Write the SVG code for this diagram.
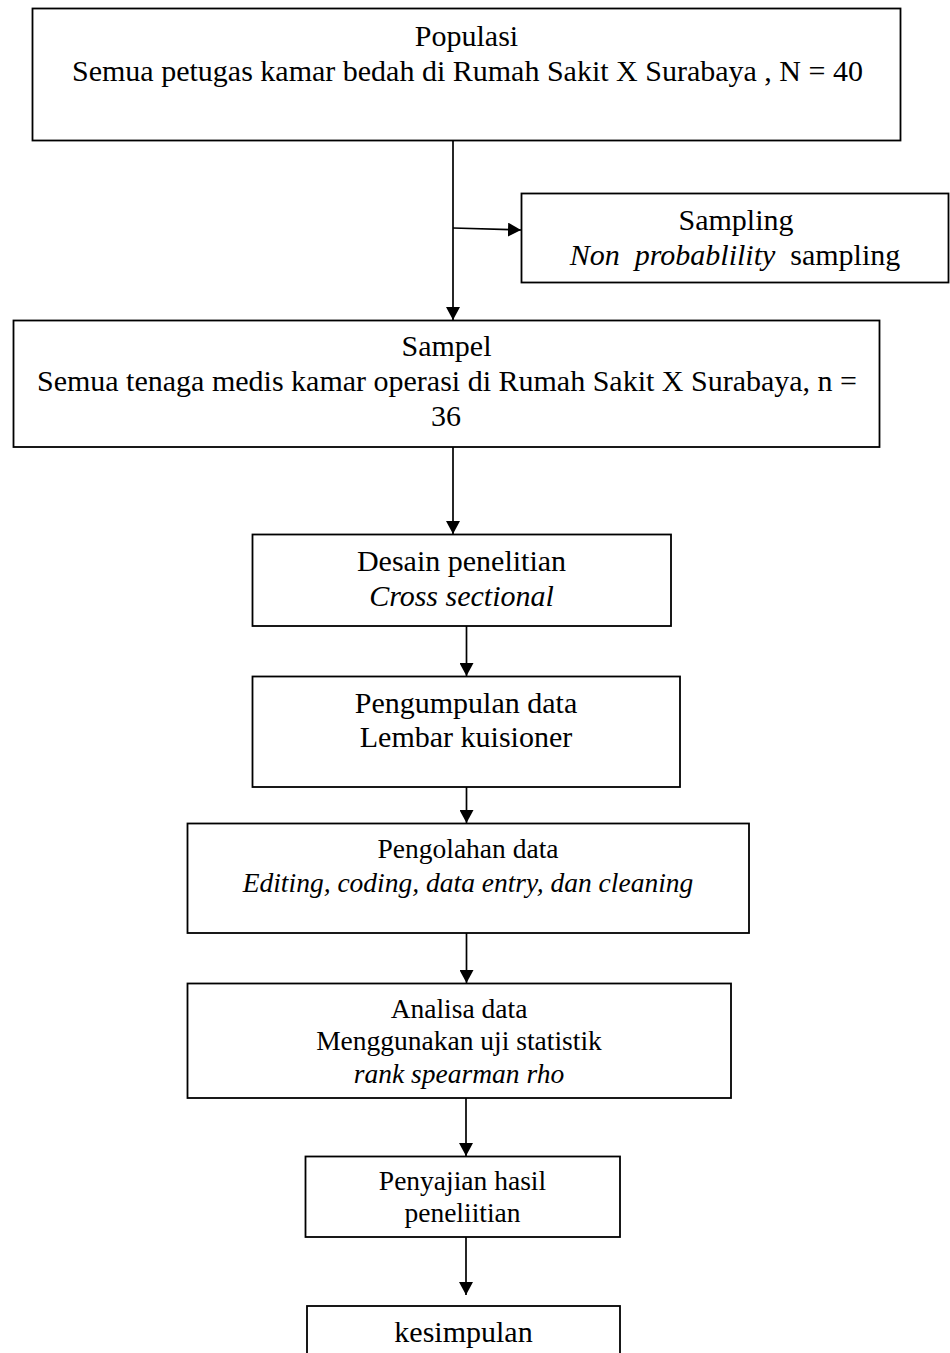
<svg xmlns="http://www.w3.org/2000/svg" width="950" height="1353" viewBox="0 0 950 1353">
<style>
  .box { fill: #ffffff; stroke: #000000; stroke-width: 1.8; }
  .t { font-family: "Liberation Serif", "Times New Roman", serif; fill: #000000; text-anchor: middle; }
  .a { font-size: 30px; }
  .b { font-size: 27.5px; }
  .i { font-style: italic; }
  .c { fill: none; stroke: #000000; stroke-width: 1.7; }
</style>
<defs>
  <marker id="arr" viewBox="0 0 13 14" refX="13" refY="7" markerWidth="13" markerHeight="14" markerUnits="userSpaceOnUse" orient="auto">
    <path d="M0,0 L13,7 L0,14 Z" fill="#000000"/>
  </marker>
</defs>
<rect width="950" height="1353" fill="#ffffff"/>

<g id="connectors">
  <line class="c" x1="453" y1="141" x2="453" y2="320" marker-end="url(#arr)"/>
  <line class="c" x1="453" y1="228" x2="521" y2="230" marker-end="url(#arr)"/>
  <line class="c" x1="453" y1="447" x2="453" y2="534" marker-end="url(#arr)"/>
  <line class="c" x1="466.5" y1="626" x2="466.5" y2="676" marker-end="url(#arr)"/>
  <line class="c" x1="466.5" y1="787" x2="466.5" y2="823" marker-end="url(#arr)"/>
  <line class="c" x1="466.5" y1="933" x2="466.5" y2="983" marker-end="url(#arr)"/>
  <line class="c" x1="466" y1="1098" x2="466" y2="1156" marker-end="url(#arr)"/>
  <line class="c" x1="466" y1="1237" x2="466" y2="1295" marker-end="url(#arr)"/>
</g>

<g id="populasi">
  <rect class="box" x="32.5" y="8.5" width="868" height="132"/>
  <text class="t a" x="466.5" y="46">Populasi</text>
  <text class="t a" x="467.5" y="81">Semua petugas kamar bedah di Rumah Sakit X Surabaya , N = 40</text>
</g>

<g id="sampling">
  <rect class="box" x="521.5" y="193.5" width="427" height="89"/>
  <text class="t a" x="736" y="230">Sampling</text>
  <text class="t a" x="735" y="265"><tspan class="i">Non&#160; probablility</tspan>&#160; sampling</text>
</g>

<g id="sampel">
  <rect class="box" x="13.5" y="320.5" width="866" height="126.5"/>
  <text class="t a" x="446.5" y="356">Sampel</text>
  <text class="t a" x="447" y="391">Semua tenaga medis kamar operasi di Rumah Sakit X Surabaya, n =</text>
  <text class="t a" x="446" y="426">36</text>
</g>

<g id="desain">
  <rect class="box" x="252.5" y="534.5" width="418.5" height="91.5"/>
  <text class="t a" x="461.5" y="571">Desain penelitian</text>
  <text class="t a i" x="461.5" y="606">Cross sectional</text>
</g>

<g id="pengumpulan">
  <rect class="box" x="252.5" y="676.5" width="427.5" height="110.5"/>
  <text class="t a" x="466" y="713">Pengumpulan data</text>
  <text class="t a" x="466" y="747">Lembar kuisioner</text>
</g>

<g id="pengolahan">
  <rect class="box" x="187.5" y="823.5" width="561.5" height="109.5"/>
  <text class="t b" x="468" y="858">Pengolahan data</text>
  <text class="t b i" x="468" y="892">Editing, coding, data entry, dan cleaning</text>
</g>

<g id="analisa">
  <rect class="box" x="187.5" y="983.5" width="543.5" height="114.5"/>
  <text class="t b" x="459" y="1018">Analisa data</text>
  <text class="t b" x="459" y="1050">Menggunakan uji statistik</text>
  <text class="t b i" x="459" y="1083">rank spearman rho</text>
</g>

<g id="penyajian">
  <rect class="box" x="305.5" y="1156.5" width="314.5" height="80.5"/>
  <text class="t b" x="462.5" y="1190">Penyajian hasil</text>
  <text class="t b" x="462.5" y="1222">peneliitian</text>
</g>

<g id="kesimpulan">
  <rect class="box" x="307" y="1306" width="313" height="70"/>
  <text class="t a" x="463.5" y="1342">kesimpulan</text>
</g>
</svg>
